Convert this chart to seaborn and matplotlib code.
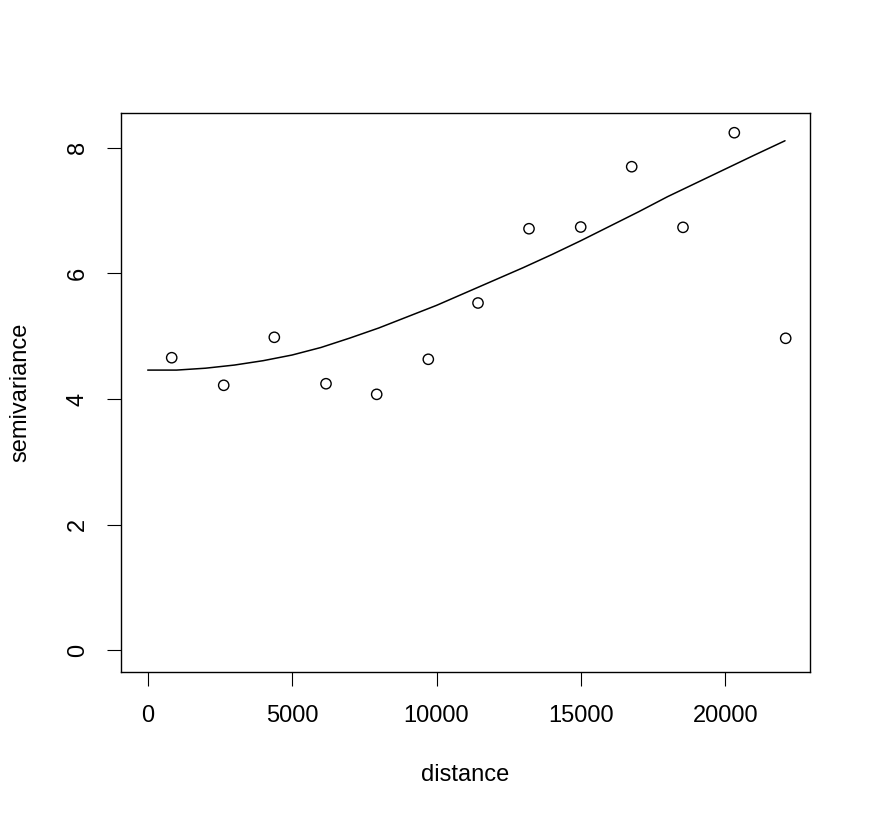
import matplotlib
matplotlib.use("Agg")
import matplotlib.pyplot as plt
import seaborn as sns
import pandas as pd

# Empirical semivariogram points
dist = [831, 2632, 4384, 6174, 7929, 9716, 11437, 13203, 14993, 16759, 18535, 20312, 22091]
gamma = [4.657, 4.218, 4.982, 4.243, 4.074, 4.632, 5.528, 6.710, 6.737, 7.697, 6.732, 8.238, 4.966]

# Fitted model line
line_dist = [0, 1000, 2000, 3000, 4000, 5000, 6000, 7000, 8000, 9000, 10000, 11000,
             12000, 13000, 14000, 15000, 16000, 17000, 18000, 19000, 20000, 21000, 22067]
line_gamma = [4.46, 4.46, 4.49, 4.54, 4.61, 4.70, 4.82, 4.97, 5.13, 5.31, 5.49, 5.69,
              5.89, 6.09, 6.30, 6.52, 6.75, 6.98, 7.22, 7.44, 7.66, 7.88, 8.11]

xticks = [0, 5000, 10000, 15000, 20000]
yticks = [0, 2, 4, 6, 8]

sns.set_style("white")
plt.rcParams['font.family'] = ['Liberation Sans', 'DejaVu Sans']
plt.rcParams['text.color'] = 'black'
plt.rcParams['axes.labelcolor'] = 'black'
plt.rcParams['xtick.color'] = 'black'
plt.rcParams['ytick.color'] = 'black'

fig = plt.figure(figsize=(8.73, 8.13), dpi=100)
ax = fig.add_axes([120.7 / 873, (813 - 672) / 813, 689.6 / 873, 558.7 / 813])

pts = pd.DataFrame({"distance": dist, "semivariance": gamma})
mdl = pd.DataFrame({"distance": line_dist, "semivariance": line_gamma})

sns.lineplot(data=mdl, x="distance", y="semivariance", ax=ax, color="black",
             linewidth=1.1, sort=False, estimator=None)
sns.scatterplot(data=pts, x="distance", y="semivariance", ax=ax, marker="o",
                facecolors="none", edgecolor="black", linewidth=1.0, s=55, zorder=3)

ax.set_xlim(-935, 22943)
ax.set_ylim(-0.345, 8.547)
ax.set_xticks(xticks)
ax.set_xticklabels([str(v) for v in xticks])
ax.set_yticks(yticks)
ax.set_yticklabels([str(v) for v in yticks])

for s in ax.spines.values():
    s.set_visible(True)
    s.set_color("black")
    s.set_linewidth(1.0)

ax.tick_params(axis="both", which="major", direction="out", length=10, width=0.8,
               color="black", labelcolor="black", labelsize=17,
               bottom=True, left=True, top=False, right=False)
ax.tick_params(axis="x", pad=14)
ax.tick_params(axis="y", pad=13, labelrotation=90)
for lab in ax.get_yticklabels():
    lab.set_verticalalignment("center")

ax.set_xlabel("distance", fontsize=17, color="black")
ax.set_ylabel("semivariance", fontsize=17, color="black")
ax.xaxis.set_label_coords(0.499, (672 - 775) / 558.7)
ax.xaxis.label.set_verticalalignment("center")
ax.yaxis.set_label_coords((20.7 - 120.7) / 689.6, 0.5)
ax.yaxis.label.set_verticalalignment("center")

fig.savefig("out.png", dpi=100, facecolor="white")
